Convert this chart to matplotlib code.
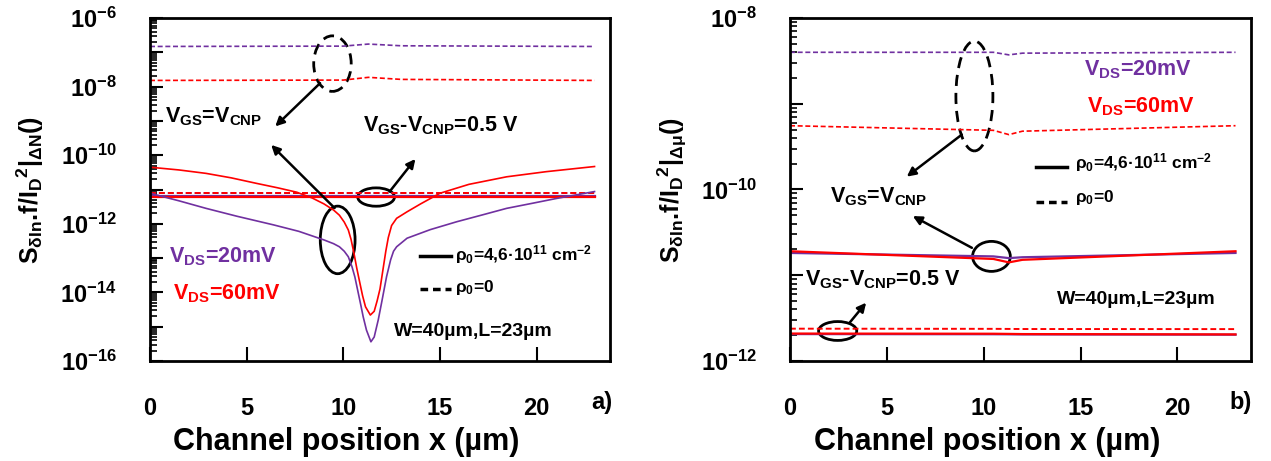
import matplotlib
matplotlib.use('Agg')
import matplotlib.pyplot as plt
import numpy as np
from matplotlib.patches import Ellipse
from matplotlib.ticker import LogLocator, NullFormatter, FixedLocator

plt.rcParams['font.family'] = ['Liberation Sans', 'DejaVu Sans']
plt.rcParams['font.weight'] = 'bold'
plt.rcParams['mathtext.fontset'] = 'custom'
plt.rcParams['mathtext.rm'] = 'Liberation Sans:bold'
plt.rcParams['mathtext.it'] = 'Liberation Sans:bold'
plt.rcParams['mathtext.bf'] = 'Liberation Sans:bold'
plt.rcParams['mathtext.default'] = 'rm'

PURPLE = '#7030A0'
RED = '#FF0000'

# ---- panel a) : S/I^2 |dN  (values given as log10) ----
# V_GS = V_CNP, rho0 = 4.6e11 (solid V-shaped curves)
a_red_x = [0, 1.5, 2.9, 4.2, 5.5, 6.6, 7.6, 8.4, 9.0, 9.5, 9.8, 10.05, 10.26, 10.4, 10.55, 10.7, 10.86,
           11.0, 11.15, 11.4, 11.6, 11.75, 11.9, 12.05, 12.2, 12.33, 12.5, 12.76, 13.3, 14.0, 15.0,
           16.5, 18.45, 20.5, 23.0]
a_red_log = [-10.35, -10.43, -10.53, -10.66, -10.82, -10.95, -11.08, -11.25, -11.42, -11.6, -11.75,
             -11.95, -12.18, -12.45, -12.85, -13.3, -13.73, -14.1, -14.42, -14.66, -14.55, -14.25,
             -13.9, -13.35, -12.8, -12.4, -12.05, -11.84, -11.65, -11.42, -11.11, -10.85, -10.63,
             -10.48, -10.33]
a_pur_x = [0, 1.5, 2.9, 4.5, 6.38, 7.7, 9.0, 9.5, 9.8, 10.05, 10.26, 10.45, 10.6, 10.75, 10.9, 11.03,
           11.2, 11.43, 11.6, 11.81, 12.0, 12.24, 12.45, 12.6, 12.76, 13.3, 14.5, 15.87, 17.2, 18.45,
           19.8, 21.04, 23.0]
a_pur_log = [-11.11, -11.33, -11.55, -11.78, -12.03, -12.22, -12.47, -12.58, -12.67, -12.8, -12.96,
             -13.25, -13.55, -13.95, -14.35, -14.71, -15.1, -15.44, -15.3, -14.8, -14.25, -13.54,
             -13.05, -12.8, -12.67, -12.42, -12.17, -11.94, -11.74, -11.55, -11.4, -11.26, -11.06]
# V_GS = V_CNP, rho0 = 0 (dashed, top)
a_top_x = [0, 10.0, 11.3, 13.0, 23.0]
a_pur_dash_top = [-6.83, -6.82, -6.76, -6.81, -6.83]
a_red_dash_top = [-7.82, -7.81, -7.73, -7.79, -7.82]
# V_GS - V_CNP = 0.5 V (flat)
a_flat_x = [0, 23.0]
a_pur_flat_solid = [-11.18, -11.18]
a_red_flat_solid = [-11.21, -11.21]
a_pur_flat_dash = [-11.1, -11.1]
a_red_flat_dash = [-11.09, -11.09]

# ---- panel b) : S/I^2 |dmu  (log10) ----
b_x = [0, 10.5, 11.3, 12.0, 23.0]
b_pur_dash_top = [-8.40, -8.40, -8.43, -8.41, -8.40]
b_red_dash_top = [-9.256, -9.31, -9.36, -9.32, -9.256]
b_pur_solid_cnp = [-10.74, -10.78, -10.80, -10.79, -10.74]
b_red_solid_cnp = [-10.72, -10.81, -10.85, -10.82, -10.72]
b_pur_flat_solid = [-11.686, -11.688, -11.689, -11.69, -11.693]
b_red_flat_solid = [-11.68, -11.682, -11.684, -11.686, -11.69]
b_red_flat_dash = [-11.623, -11.625, -11.626, -11.627, -11.628]

xticks = [0, 5, 10, 15, 20]

fig = plt.figure(figsize=(12.71, 4.61), dpi=100)
axa = fig.add_axes([150 / 1271, 100 / 461, 460 / 1271, 343 / 461])
axb = fig.add_axes([790 / 1271, 100 / 461, 461 / 1271, 343 / 461])


def curve(ax, x, logv, color, lw, dashed=False):
    ls = (0, (3, 1.6)) if dashed else '-'
    ax.plot(x, 10.0 ** np.array(logv), color=color, lw=lw, ls=ls)


curve(axa, a_top_x, a_pur_dash_top, PURPLE, 1.2, True)
curve(axa, a_top_x, a_red_dash_top, RED, 1.2, True)
curve(axa, a_flat_x, a_pur_flat_dash, PURPLE, 1.4, True)
curve(axa, a_flat_x, a_pur_flat_solid, PURPLE, 1.6)
curve(axa, a_flat_x, a_red_flat_dash, RED, 1.4, True)
curve(axa, a_flat_x, a_red_flat_solid, RED, 1.6)
curve(axa, a_pur_x, a_pur_log, PURPLE, 1.2)
curve(axa, a_red_x, a_red_log, RED, 1.2)

curve(axb, b_x, b_pur_dash_top, PURPLE, 1.2, True)
curve(axb, b_x, b_red_dash_top, RED, 1.2, True)
curve(axb, b_x, b_pur_solid_cnp, PURPLE, 1.6)
curve(axb, b_x, b_red_solid_cnp, RED, 1.6)
curve(axb, b_x, b_pur_flat_solid, PURPLE, 1.6)
curve(axb, b_x, b_red_flat_solid, RED, 1.6)
curve(axb, b_x, b_red_flat_dash, RED, 1.4, True)

for ax, lo, hi in [(axa, -16, -6), (axb, -12, -8)]:
    ax.set_yscale('log')
    ax.set_xlim(0, 23.8)
    ax.set_ylim(10.0 ** lo, 10.0 ** hi)
    decs = list(range(lo, hi + 1))
    ax.yaxis.set_major_locator(FixedLocator([10.0 ** d for d in decs]))
    ax.set_yticklabels(['10$^{%d}$' % d if (d % 2 == 0) else '' for d in decs])
    ax.yaxis.set_minor_locator(LogLocator(base=10, subs=np.arange(2, 10), numticks=100))
    ax.yaxis.set_minor_formatter(NullFormatter())
    ax.set_xticks(xticks)
    ax.tick_params(axis='y', which='major', direction='in', length=9, width=1.5, pad=24, labelsize=17)
    ax.tick_params(axis='y', which='minor', direction='in', length=5, width=1.2)
    ax.tick_params(axis='x', which='major', direction='in', length=10, width=1.5, pad=26, labelsize=17)
    for s in ax.spines.values():
        s.set_linewidth(2)


def ell(ax, x, logy, w, hdec, dashed=False):
    lo, hi = np.log10(ax.get_ylim())
    xf = x / ax.get_xlim()[1]
    yf = (logy - lo) / (hi - lo)
    e = Ellipse((xf, yf), w / ax.get_xlim()[1], hdec / (hi - lo), transform=ax.transAxes,
                fill=False, ec='k', lw=2)
    if dashed:
        e.set_linestyle((0, (4, 2.5)))
    ax.add_patch(e)


def arrow(ax, x1, l1, x2, l2):
    ax.annotate('', xy=(x2, 10.0 ** l2), xytext=(x1, 10.0 ** l1),
                arrowprops=dict(arrowstyle='-|>', color='k', lw=1.8, mutation_scale=13, shrinkA=0, shrinkB=0))


def txt(ax, x, l, s, color='k', size=15.5):
    ax.text(x, 10.0 ** l, s, color=color, fontsize=size, ha='left', va='center', fontweight='bold')


def legend_lines(ax, x1, x2, l1, l2, xt):
    ax.plot([x1, x2], [10.0 ** l1, 10.0 ** l1], color='k', lw=2.5)
    ax.plot([x1, x2], [10.0 ** l2, 10.0 ** l2], color='k', lw=2.5, ls=(0, (2.2, 1.4)))
    txt(ax, xt, l1 + 0.05, r'$\rho_0$=4,6·10$^{11}$ cm$^{-2}$', size=12.5)
    txt(ax, xt, l2 + 0.05, r'$\rho_0$=0', size=12.5)


# panel a annotations
ell(axa, 9.44, -7.33, 1.94, 1.62, dashed=True)
arrow(axa, 8.8, -7.9, 6.48, -9.16)
txt(axa, 0.78, -8.87, r'V$_{GS}$=V$_{CNP}$')
ell(axa, 9.71, -12.47, 1.8, 1.97)
arrow(axa, 9.55, -11.54, 6.27, -9.70)
ell(axa, 11.7, -11.22, 1.9, 0.535)
arrow(axa, 12.4, -11.06, 13.73, -10.11)
txt(axa, 11.0, -9.15, r'V$_{GS}$-V$_{CNP}$=0.5 V')
txt(axa, 1.0, -12.96, r'V$_{DS}$=20mV', color=PURPLE)
txt(axa, 1.2, -14.03, r'V$_{DS}$=60mV', color=RED)
legend_lines(axa, 13.98, 15.56, -12.94, -13.91, 15.8)
txt(axa, 12.6, -15.14, 'W=40µm,L=23µm', size=14)

# panel b annotations
ell(axb, 9.52, -8.91, 1.91, 1.28, dashed=True)
arrow(axb, 8.87, -9.36, 6.03, -9.85)
txt(axb, 2.04, -10.08, r'V$_{GS}$=V$_{CNP}$')
ell(axb, 10.4, -10.78, 1.95, 0.35)
arrow(axb, 9.39, -10.68, 6.34, -10.31)
txt(axb, 0.78, -11.05, r'V$_{GS}$-V$_{CNP}$=0.5 V')
ell(axb, 2.46, -11.65, 1.97, 0.22)
arrow(axb, 3.09, -11.55, 3.93, -11.32)
txt(axb, 15.2, -8.6, r'V$_{DS}$=20mV', color=PURPLE)
txt(axb, 15.35, -9.04, r'V$_{DS}$=60mV', color=RED)
legend_lines(axb, 12.7, 14.3, -9.74, -10.14, 14.7)
txt(axb, 13.8, -11.28, 'W=40µm,L=23µm', size=14)

# axis labels and panel tags
fig.text(30 / 1271, 1 - 190 / 461, r'S$_{\delta In}$.f/I$_D$$^2$|$_{\Delta N}$()', rotation=90,
         ha='center', va='center', fontsize=18, fontweight='bold')
fig.text(672 / 1271, 1 - 190 / 461, r'S$_{\delta In}$.f/I$_D$$^2$|$_{\Delta \mu}$()', rotation=90,
         ha='center', va='center', fontsize=18, fontweight='bold')
fig.text(346 / 1271, 1 - 442 / 461, 'Channel position x (µm)', ha='center', va='center', fontsize=22, fontweight='bold')
fig.text(987 / 1271, 1 - 442 / 461, 'Channel position x (µm)', ha='center', va='center', fontsize=22, fontweight='bold')
fig.text(612 / 1271, 1 - 402 / 461, 'a)', ha='right', va='center', fontsize=17, fontweight='bold')
fig.text(1252 / 1271, 1 - 402 / 461, 'b)', ha='right', va='center', fontsize=17, fontweight='bold')

fig.savefig('out.png', dpi=100)
